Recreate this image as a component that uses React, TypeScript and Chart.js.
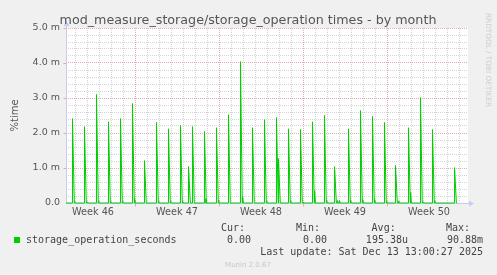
import React, { useEffect, useRef } from "react";
import { Chart, registerables } from "chart.js";

Chart.register(...registerables);

// ---- data (days since Monday of week 46; values in milli-%time) ----
const spikeDays = [
  1.79, 2.79, 3.79, 4.79, 5.79, 6.79, 7.79, 8.79, 9.79, 10.79, 11.46, 11.79,
  12.79, 13.79, 14.79, 15.79, 16.79, 17.79, 18.79, 18.96, 19.79, 20.79, 21.79,
  22.79, 23.63, 24.79, 25.79, 26.79, 27.79, 28.71, 29.79, 30.79, 31.79, 33.63,
];
const spikeHeights = [
  2.41, 2.18, 3.1, 2.32, 2.41, 2.84, 1.21, 2.3, 2.12, 2.21, 1.04, 2.18,
  2.04, 2.15, 2.52, 4.04, 2.15, 2.38, 2.44, 1.27, 2.12, 2.1, 2.32,
  2.5, 1.04, 2.12, 2.64, 2.47, 2.3, 1.07, 2.15, 3.01, 2.1, 1.01,
];
const tailDays = [
  1.97, 2.97, 3.97, 4.97, 5.97, 6.97, 8.97, 9.97, 10.97, 12.9, 13.97, 15.97,
  17.97, 19.97, 21.04, 21.97, 22.97, 23.88, 24.04, 24.97, 25.97, 26.97, 27.97,
  28.97, 29.97, 30.97, 31.97,
];
const tailHeights = [
  0.05, 0.05, 0.05, 0.05, 0.05, 0.12, 0.05, 0.05, 0.05, 0.12, 0.07, 0.17,
  0.06, 0.06, 0.03, 0.35, 0.07, 0.07, 0.07, 0.07, 0.1, 0.1, 0.05,
  0.06, 0.3, 0.05, 0.07,
];
const dataStart = 1.25;
const dataEnd = 33.85;

const weekLabels = ["Week 46", "Week 47", "Week 48", "Week 49", "Week 50"];
const weekLabelDays = [3.5, 10.5, 17.5, 24.5, 31.5];
const weekStartDays = [7, 14, 21, 28];

const xMin = 1.25;
const xMax = 34.75;
const yMax = 5;

const titleText = "mod_measure_storage/storage_operation times - by month";
const yAxisTitle = "%time";
const seriesName = "storage_operation_seconds";
const statHeaders = ["Cur:", "Min:", "Avg:", "Max:"];
const statValues = ["0.00", "0.00", "195.38u", "90.88m"];
const lastUpdate = "Last update: Sat Dec 13 13:00:27 2025";
const footer = "Munin 2.0.67";
const sideText = "RRDTOOL / TOBI OETIKER";

const GREEN = "#00cc00";
const MINOR = "rgb(212,212,212)";
const MAJOR = "rgb(228,172,172)";
const AXIS = "#c5cdf3";

function buildPoints() {
  const ev: { x: number; y: number }[][] = [];
  spikeDays.forEach((d, i) => {
    ev.push([
      { x: d - 0.02, y: 0 },
      { x: d, y: spikeHeights[i] },
      { x: d + 0.15, y: 0 },
    ]);
  });
  tailDays.forEach((d, i) => {
    ev.push([
      { x: d - 0.01, y: 0 },
      { x: d, y: tailHeights[i] },
      { x: d + 0.06, y: 0 },
    ]);
  });
  ev.sort((a, b) => a[1].x - b[1].x);
  const pts: { x: number; y: number }[] = [{ x: dataStart, y: 0 }];
  ev.forEach((e) => pts.push(...e));
  pts.push({ x: dataEnd, y: 0 });
  return pts;
}

const isInt = (v: number) => Math.abs(v - Math.round(v)) < 1e-6;

const extrasPlugin = {
  id: "extras",
  beforeDraw(chart: any) {
    const { ctx, chartArea } = chart;
    ctx.save();
    ctx.fillStyle = "#ffffff";
    ctx.fillRect(chartArea.left, chartArea.top, chartArea.right - chartArea.left, chartArea.bottom - chartArea.top);
    ctx.restore();
  },
  beforeDatasetsDraw(chart: any) {
    const { ctx, chartArea, scales } = chart;
    const x0 = Math.round(chartArea.left) + 0.5;
    const yb = Math.round(chartArea.bottom) + 0.5;
    ctx.save();
    ctx.strokeStyle = AXIS;
    ctx.lineWidth = 1;
    ctx.beginPath();
    ctx.moveTo(x0, yb);
    ctx.lineTo(x0, chartArea.top - 3);
    ctx.moveTo(x0, yb);
    ctx.lineTo(chartArea.right + 2, yb);
    ctx.stroke();
    ctx.fillStyle = AXIS;
    ctx.beginPath();
    ctx.moveTo(x0, chartArea.top - 7);
    ctx.lineTo(x0 - 3, chartArea.top - 2);
    ctx.lineTo(x0 + 3, chartArea.top - 2);
    ctx.closePath();
    ctx.fill();
    ctx.beginPath();
    ctx.moveTo(chartArea.right + 6, yb);
    ctx.lineTo(chartArea.right + 1, yb - 3);
    ctx.lineTo(chartArea.right + 1, yb + 3);
    ctx.closePath();
    ctx.fill();
    // small tick marks
    ctx.strokeStyle = MAJOR;
    ctx.beginPath();
    weekStartDays.forEach((d) => {
      const px = Math.round(scales.x.getPixelForValue(d)) + 0.5;
      ctx.moveTo(px, yb);
      ctx.lineTo(px, yb + 3);
    });
    for (let v = 1; v <= yMax; v++) {
      const py = Math.round(scales.y.getPixelForValue(v)) + 0.5;
      ctx.moveTo(x0 - 3, py);
      ctx.lineTo(x0, py);
    }
    ctx.stroke();
    ctx.restore();
  },
  afterDraw(chart: any) {
    const { ctx } = chart;
    ctx.save();
    // title
    ctx.fillStyle = "#555";
    ctx.font = '12.7px "DejaVu Sans"';
    ctx.textAlign = "center";
    ctx.textBaseline = "alphabetic";
    ctx.fillText(titleText, 248, 24);
    // y axis title
    ctx.save();
    ctx.translate(15, 115.5);
    ctx.rotate(-Math.PI / 2);
    ctx.font = '10px "DejaVu Sans"';
    ctx.textBaseline = "middle";
    ctx.textAlign = "center";
    ctx.fillText(yAxisTitle, 0, 0);
    ctx.restore();
    // side text
    ctx.save();
    ctx.translate(485, 13);
    ctx.rotate(Math.PI / 2);
    ctx.font = '7.3px "DejaVu Sans"';
    ctx.fillStyle = "#cfcfcf";
    ctx.textAlign = "left";
    ctx.textBaseline = "middle";
    ctx.fillText(sideText, 0, -3);
    ctx.restore();
    // legend
    ctx.fillStyle = GREEN;
    ctx.fillRect(14, 237, 6, 6);
    ctx.fillStyle = "#444";
    ctx.font = '10px "DejaVu Sans Mono"';
    ctx.textAlign = "left";
    ctx.fillText(seriesName, 26, 243);
    const hx = [221, 296, 371.6, 446];
    statHeaders.forEach((t, i) => ctx.fillText(t, hx[i], 231));
    const vx = [251, 327, 408, 483];
    ctx.textAlign = "right";
    statValues.forEach((t, i) => ctx.fillText(t, vx[i], 243));
    ctx.fillText(lastUpdate, 483, 255);
    ctx.textAlign = "center";
    ctx.fillStyle = "#c8c8c8";
    ctx.font = '7px "DejaVu Sans"';
    ctx.fillText(footer, 248, 266.5);
    ctx.restore();
  },
};

export default function App() {
  const ref = useRef<HTMLCanvasElement | null>(null);
  useEffect(() => {
    document.body.style.margin = "0";
    const canvas = ref.current!;
    const xTicks: number[] = [];
    for (let v = 1.5; v <= 34.5 + 1e-9; v += 0.5) xTicks.push(v);
    const chart = new Chart(canvas, {
      type: "line",
      data: {
        datasets: [
          {
            data: buildPoints(),
            borderColor: GREEN,
            borderWidth: 1,
            pointRadius: 0,
            tension: 0,
            fill: false,
            clip: 3,
          } as any,
        ],
      },
      options: {
        responsive: false,
        devicePixelRatio: 1,
        animation: false,
        parsing: false,
        normalized: true,
        layout: { padding: { left: 0, top: 28, right: 29, bottom: 0 } },
        plugins: { legend: { display: false }, tooltip: { enabled: false }, title: { display: false } },
        scales: {
          x: {
            type: "linear",
            min: xMin,
            max: xMax,
            afterBuildTicks: (scale: any) => {
              scale.ticks = xTicks.map((v) => ({ value: v }));
            },
            afterFit: (scale: any) => {
              scale.height = 72;
            },
            grid: {
              drawTicks: false,
              lineWidth: 1,
              color: (c: any) => {
                const v = c.tick ? c.tick.value : 0;
                if (!isInt(v)) return "rgba(0,0,0,0)";
                if (Math.round(v) % 7 === 0) return MAJOR;
                return MINOR;
              },
            },
            border: { display: false, dash: [1, 1] },
            ticks: {
              autoSkip: false,
              maxRotation: 0,
              minRotation: 0,
              padding: 4,
              color: "#555",
              font: { family: "DejaVu Sans", size: 9.7 },
              callback: (v: any) => {
                const idx = weekLabelDays.findIndex((d) => Math.abs(d - v) < 1e-6);
                return idx >= 0 ? weekLabels[idx] : "";
              },
            },
          },
          y: {
            type: "linear",
            min: 0,
            max: yMax,
            afterBuildTicks: (scale: any) => {
              const t: any[] = [];
              for (let i = 0; i <= 25; i++) t.push({ value: i / 5 });
              scale.ticks = t;
            },
            afterFit: (scale: any) => {
              scale.width = 66;
            },
            grid: {
              drawTicks: false,
              lineWidth: 1,
              color: (c: any) => {
                const v = c.tick ? c.tick.value : 0;
                if (v === 0) return "rgba(0,0,0,0)";
                return isInt(v) ? MAJOR : MINOR;
              },
            },
            border: { display: false, dash: [1, 1] },
            ticks: {
              autoSkip: false,
              padding: 6,
              color: "#555",
              font: { family: "DejaVu Sans", size: 9.5 },
              callback: (v: any) => {
                if (!isInt(v)) return "";
                const r = Math.round(v);
                return r === 0 ? "0.0" : r.toFixed(1) + " m";
              },
            },
          },
        },
      },
      plugins: [extrasPlugin],
    });
    return () => chart.destroy();
  }, []);
  return (
    <div style={{ position: "fixed", left: 0, top: 0, width: 497, height: 275, background: "#f0f0f0" }}>
      <canvas ref={ref} width={497} height={275} style={{ display: "block", width: 497, height: 275 }} />
    </div>
  );
}
